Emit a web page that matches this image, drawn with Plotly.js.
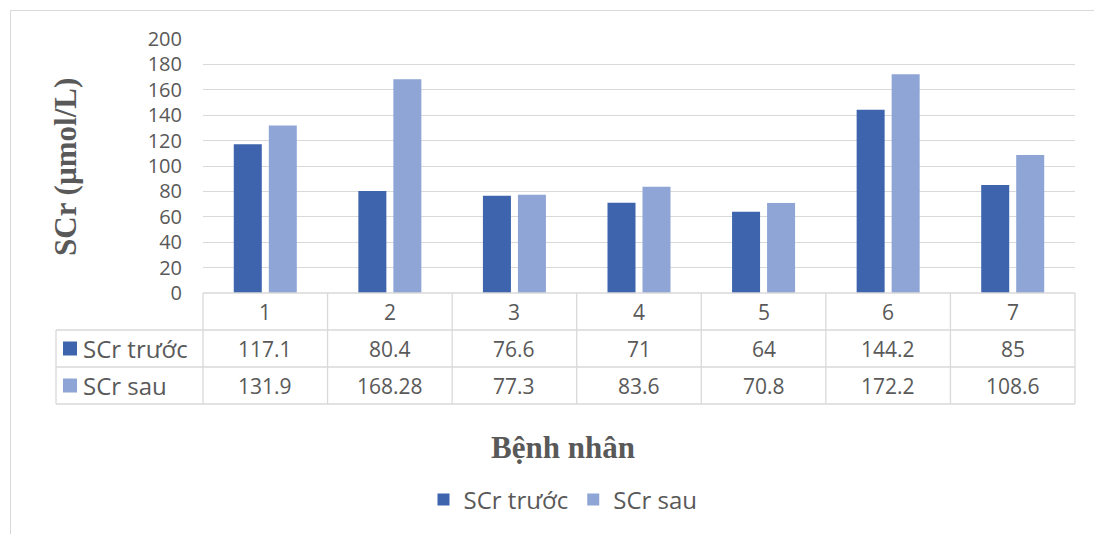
<!DOCTYPE html>
<html>
<head>
<meta charset="utf-8">
<script src="https://cdn.plot.ly/plotly-3.0.1.min.js"></script>
<style>
html,body{margin:0;padding:0;background:#fff;}
#wrap{position:relative;width:1094px;height:534px;}
#chart{position:absolute;left:0;top:0;width:1094px;height:534px;}
#frame{position:absolute;left:10px;top:10px;width:1100px;height:540px;border-left:1px solid #d9d9d9;border-top:1px solid #d9d9d9;pointer-events:none;}
</style>
</head>
<body>
<div id="wrap"><div id="chart"></div><div id="frame"></div></div>
<script>
// ---- data ----
var categories = ["1", "2", "3", "4", "5", "6", "7"];
var seriesNames = ["SCr trước", "SCr sau"];
var scrTruoc = [117.1, 80.4, 76.6, 71, 64, 144.2, 85];
var scrSau = [131.9, 168.28, 77.3, 83.6, 70.8, 172.2, 108.6];
var tableTruoc = ["117.1", "80.4", "76.6", "71", "64", "144.2", "85"];
var tableSau = ["131.9", "168.28", "77.3", "83.6", "70.8", "172.2", "108.6"];
var yTickVals = [0, 20, 40, 60, 80, 100, 120, 140, 160, 180, 200];
var yTitle = "SCr (µmol/L)";
var xTitle = "Bệnh nhân";

// ---- layout geometry ----
var WIDTH = 1094, HEIGHT = 534;
var L = 203, R = 1075, T = 39, B = 293;
var PW = R - L, PH = B - T;
function px(x) { return (x - L) / PW; }
function py(y) { return (B - y) / PH; }

var c1 = "#3d64ad", c2 = "#8fa5d5";
var grey = "#595959", gridc = "#d9d9d9";
var sans = "Open Sans, sans-serif";
var serif = "Liberation Serif, Times New Roman, serif";

var rowTop = [293, 330, 367, 404];
var rowMid = [311.5, 348.5, 385.5];
var labelLeft = 56;

var traces = [
  {type: "bar", name: seriesNames[0], x: categories, y: scrTruoc, marker: {color: c1}, hoverinfo: "x+y+name"},
  {type: "bar", name: seriesNames[1], x: categories, y: scrSau, marker: {color: c2}, hoverinfo: "x+y+name"}
];

var shapes = [];
var lineStyle = {color: gridc, width: 1.3};
// horizontal table lines
shapes.push({type: "line", xref: "paper", yref: "paper", x0: 0, x1: 1, y0: py(rowTop[0]), y1: py(rowTop[0]), line: lineStyle});
for (var r = 1; r < rowTop.length; r++) {
  shapes.push({type: "line", xref: "paper", yref: "paper", x0: px(labelLeft), x1: 1, y0: py(rowTop[r]), y1: py(rowTop[r]), line: lineStyle});
}
// vertical table lines
shapes.push({type: "line", xref: "paper", yref: "paper", x0: 0, x1: 0, y0: py(rowTop[0]), y1: py(rowTop[3]), line: lineStyle});
shapes.push({type: "line", xref: "paper", yref: "paper", x0: 1, x1: 1, y0: py(rowTop[0]), y1: py(rowTop[3]), line: lineStyle});
for (var i = 1; i < categories.length; i++) {
  shapes.push({type: "line", xref: "x", yref: "paper", x0: i - 0.5, x1: i - 0.5, y0: py(rowTop[0]), y1: py(rowTop[3]), line: lineStyle});
}
shapes.push({type: "line", xref: "paper", yref: "paper", x0: px(labelLeft), x1: px(labelLeft), y0: py(rowTop[1]), y1: py(rowTop[3]), line: lineStyle});
// legend keys in table
var keyColors = [c1, c2];
for (var k = 0; k < 2; k++) {
  shapes.push({type: "rect", xref: "paper", yref: "paper", x0: px(63), x1: px(77),
    y0: py(rowMid[k + 1] - 7), y1: py(rowMid[k + 1] + 7), fillcolor: keyColors[k], line: {width: 0}});
}

var annotations = [];
var cellFont = {family: sans, size: 21, color: grey};
for (var j = 0; j < categories.length; j++) {
  annotations.push({xref: "x", yref: "paper", x: j, y: py(rowMid[0]), text: categories[j], showarrow: false, font: cellFont, xanchor: "center", yanchor: "middle"});
  annotations.push({xref: "x", yref: "paper", x: j, y: py(rowMid[1]), text: tableTruoc[j], showarrow: false, font: cellFont, xanchor: "center", yanchor: "middle"});
  annotations.push({xref: "x", yref: "paper", x: j, y: py(rowMid[2]), text: tableSau[j], showarrow: false, font: cellFont, xanchor: "center", yanchor: "middle"});
}
var rowLabelFont = {family: sans, size: 24, color: grey};
annotations.push({xref: "paper", yref: "paper", x: px(81), y: py(rowMid[1]), text: seriesNames[0], showarrow: false, font: rowLabelFont, xanchor: "left", yanchor: "middle"});
annotations.push({xref: "paper", yref: "paper", x: px(81), y: py(rowMid[2]), text: seriesNames[1], showarrow: false, font: rowLabelFont, xanchor: "left", yanchor: "middle"});
// axis titles
annotations.push({xref: "paper", yref: "paper", x: px(65), y: py(167), text: "<b>" + yTitle + "</b>", textangle: -90, showarrow: false,
  font: {family: serif, size: 31, color: grey}, xanchor: "center", yanchor: "middle"});
annotations.push({xref: "paper", yref: "paper", x: px(563), y: py(447), text: "<b>" + xTitle + "</b>", showarrow: false,
  font: {family: serif, size: 31, color: grey}, xanchor: "center", yanchor: "middle"});

var layout = {
  width: WIDTH, height: HEIGHT,
  margin: {l: L, r: WIDTH - R, t: T, b: HEIGHT - B, pad: 0},
  paper_bgcolor: "#fff", plot_bgcolor: "#fff",
  barmode: "group", bargap: 0.438, bargroupgap: 0.2,
  xaxis: {type: "category", showticklabels: false, showgrid: false, zeroline: false, showline: false, ticks: "", fixedrange: true},
  yaxis: {range: [0, 200], tickvals: yTickVals, ticktext: yTickVals.map(String), showgrid: true, gridcolor: gridc, gridwidth: 1.3,
    zeroline: false, showline: false, ticks: "", ticklabelstandoff: 20, tickfont: {family: sans, size: 20, color: grey}, fixedrange: true},
  showlegend: true,
  legend: {orientation: "h", x: px(563), xanchor: "center", y: py(500), yanchor: "middle", font: {family: sans, size: 24, color: grey},
    bgcolor: "rgba(0,0,0,0)", itemclick: false, itemdoubleclick: false, traceorder: "normal"},
  shapes: shapes,
  annotations: annotations
};

Plotly.newPlot("chart", traces, layout, {displayModeBar: false, staticPlot: false});
</script>
</body>
</html>
